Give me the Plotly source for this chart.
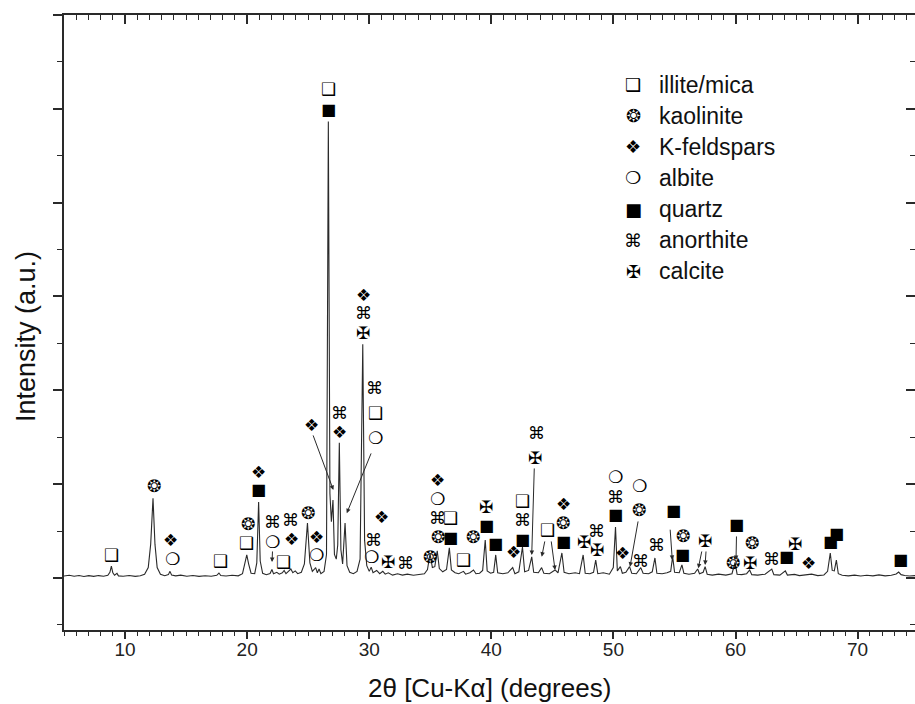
import plotly.graph_objects as go

# Powder diffraction pattern (2-theta in degrees, intensity in arbitrary counts)
TWO_THETA = [
    5.00, 5.43, 5.83, 6.23, 6.63, 7.03, 7.43, 7.83, 8.24, 8.59, 8.76, 8.88, 9.00, 9.14, 9.34, 9.46,
    9.84, 10.34, 10.84, 11.25, 11.60, 11.90, 12.10, 12.29, 12.45, 12.63, 12.90, 13.25, 13.55, 13.68,
    13.81, 14.15, 14.56, 15.06, 15.56, 16.06, 16.56, 17.06, 17.51, 17.69, 17.84, 18.27, 18.77, 19.27,
    19.62, 19.82, 19.97, 20.12, 20.32, 20.62, 20.79, 20.94, 21.07, 21.27, 21.57, 21.88, 22.03, 22.16,
    22.43, 22.63, 22.88, 23.03, 23.18, 23.38, 23.58, 23.74, 23.94, 24.14, 24.44, 24.69, 24.94, 25.14,
    25.34, 25.49, 25.61, 25.75, 25.89, 26.04, 26.30, 26.50, 26.65, 26.78, 26.90, 27.03, 27.15, 27.30,
    27.42, 27.55, 27.68, 27.82, 28.02, 28.18, 28.40, 28.70, 29.00, 29.25, 29.47, 29.62, 29.80, 30.00,
    30.16, 30.31, 30.61, 30.86, 31.11, 31.31, 31.56, 31.91, 32.32, 32.72, 33.12, 33.62, 34.12, 34.52,
    34.77, 34.98, 35.17, 35.37, 35.57, 35.74, 36.02, 36.33, 36.56, 36.73, 37.03, 37.33, 37.72, 37.89,
    38.24, 38.54, 38.74, 39.04, 39.29, 39.50, 39.66, 39.94, 40.19, 40.36, 40.52, 40.94, 41.35, 41.75,
    41.93, 42.25, 42.55, 42.73, 43.05, 43.31, 43.47, 43.85, 44.12, 44.30, 44.76, 45.22, 45.46, 45.78,
    45.96, 46.36, 46.87, 47.22, 47.52, 47.69, 48.07, 48.37, 48.55, 48.72, 49.17, 49.67, 49.99, 50.17,
    50.32, 50.57, 50.73, 51.02, 51.32, 51.50, 51.88, 52.24, 52.43, 52.88, 53.18, 53.40, 53.56, 53.99,
    54.39, 54.69, 54.85, 55.01, 55.39, 55.61, 55.77, 56.19, 56.65, 56.90, 57.05, 57.35, 57.51, 57.68,
    58.10, 58.61, 59.21, 59.71, 59.96, 60.13, 60.51, 60.91, 61.16, 61.33, 61.82, 62.42, 62.97, 63.14,
    63.63, 64.08, 64.25, 64.83, 65.23, 65.73, 66.23, 66.74, 67.24, 67.54, 67.76, 67.92, 68.09, 68.26,
    68.42, 68.74, 69.24, 69.75, 70.25, 70.75, 71.25, 71.75, 72.26, 72.76, 73.16, 73.36, 73.56, 73.85,
    74.25, 74.70,
]
COUNTS = [
    20, 28, 18, 26, 15, 24, 17, 25, 18, 28, 60, 125, 55, 28, 48, 22,
    18, 26, 17, 24, 40, 110, 360, 850, 360, 110, 40, 24, 35, 70,
    32, 22, 30, 18, 26, 17, 24, 18, 28, 52, 25, 20, 28, 22,
    45, 150, 245, 150, 50, 45, 160, 810, 180, 50, 35, 48, 90, 45,
    60, 40, 55, 80, 45, 70, 95, 55, 75, 45, 60, 150, 585, 160,
    70, 90, 110, 55, 95, 45, 70, 250, 4865, 900, 600, 830, 250, 200,
    350, 1440, 300, 150, 586, 130, 60, 45, 70, 200, 2490, 400, 130, 70,
    115, 55, 80, 45, 70, 40, 55, 30, 45, 30, 40, 28, 40, 45,
    90, 260, 110, 120, 290, 100, 65, 90, 320, 85, 55, 45, 70, 40,
    55, 85, 45, 50, 80, 405, 75, 50, 60, 245, 55, 45, 55, 110,
    45, 65, 330, 65, 80, 225, 60, 55, 110, 50, 45, 85, 55, 266,
    60, 45, 55, 45, 245, 50, 45, 60, 190, 45, 55, 40, 110, 543,
    75, 120, 50, 60, 120, 50, 45, 110, 50, 45, 65, 213, 50, 45,
    55, 70, 227, 60, 55, 139, 50, 40, 50, 95, 45, 60, 120, 40,
    30, 40, 30, 45, 165, 40, 35, 45, 85, 35, 30, 40, 95, 35,
    30, 75, 30, 38, 25, 32, 40, 25, 32, 70, 266, 80, 75, 190,
    45, 28, 22, 30, 20, 28, 22, 32, 22, 28, 42, 62, 35, 25,
    20, 25,
]

# Mineral phases and the glyph used to mark each one
PHASE_CODES = ["I", "K", "F", "A", "Q", "N", "C"]
PHASE_NAMES = ["illite/mica", "kaolinite", "K-feldspars", "albite", "quartz", "anorthite", "calcite"]
PHASE_GLYPHS = ["❑", "❂", "❖", "❍", "■", "⌘", "✠"]
GLYPH = dict(zip(PHASE_CODES, PHASE_GLYPHS))

# Peak assignments: (2-theta, height of the glyph, phase)
PEAK_MARKS = [
    (8.91, 245, "I"),
    (12.35, 981, "K"),
    (13.69, 405, "F"), (13.87, 200, "A"),
    (17.78, 185, "I"),
    (19.97, 370, "I"), (20.05, 572, "K"),
    (20.97, 945, "Q"), (20.97, 1133, "F"),
    (22.10, 387, "A"), (22.10, 600, "N"),
    (22.96, 174, "I"),
    (23.65, 416, "F"), (23.57, 618, "N"),
    (25.01, 696, "K"),
    (25.64, 245, "A"), (25.70, 440, "F"),
    (25.29, 1631, "F"),
    (26.67, 4996, "Q"), (26.67, 5209, "I"),
    (27.55, 1553, "F"), (27.55, 1762, "N"),
    (29.52, 2615, "C"), (29.52, 2822, "N"), (29.52, 3017, "F"),
    (30.48, 1496, "A"), (30.48, 1762, "I"), (30.42, 2022, "N"),
    (30.21, 221, "A"), (30.34, 405, "N"), (31.02, 653, "F"),
    (31.55, 165, "C"),
    (32.93, 163, "N"),
    (34.98, 221, "K"),
    (35.61, 440, "K"), (35.61, 636, "N"), (35.61, 842, "A"), (35.61, 1045, "F"),
    (36.62, 434, "Q"), (36.62, 636, "I"),
    (37.71, 192, "I"),
    (38.53, 440, "K"),
    (39.57, 554, "Q"), (39.57, 754, "C"),
    (40.38, 370, "Q"),
    (41.80, 274, "F"),
    (42.57, 405, "Q"), (42.57, 618, "N"), (42.57, 824, "I"),
    (43.58, 1276, "C"), (43.72, 1549, "N"),
    (44.62, 512, "I"),
    (45.90, 387, "Q"), (45.90, 590, "K"), (45.90, 789, "F"),
    (47.62, 387, "C"),
    (48.63, 298, "C"), (48.63, 501, "N"),
    (50.21, 672, "Q"), (50.21, 867, "N"), (50.21, 1073, "A"),
    (50.76, 263, "F"),
    (52.12, 725, "K"), (52.12, 981, "A"),
    (52.18, 183, "N"),
    (53.49, 352, "N"),
    (54.91, 714, "Q"),
    (55.68, 245, "Q"), (55.68, 448, "K"),
    (57.50, 398, "C"),
    (59.77, 157, "K"),
    (60.10, 565, "Q"),
    (61.19, 163, "C"), (61.38, 376, "K"),
    (62.96, 199, "N"),
    (64.19, 227, "Q"),
    (64.87, 362, "C"),
    (65.96, 157, "F"),
    (67.80, 387, "Q"), (68.29, 476, "Q"),
    (73.55, 192, "Q"),
]

# Leader lines from a glyph down to its peak: (tail 2-theta, tail height, head 2-theta, head height)
LEADERS = [
    (22.08, 298, 22.04, 170),
    (25.36, 1535, 27.06, 938),
    (30.20, 1343, 28.16, 690),
    (43.52, 1183, 43.31, 245),
    (44.40, 405, 44.13, 227),
    (44.89, 405, 45.22, 85),
    (52.04, 618, 51.36, 120),
    (54.64, 530, 54.82, 192),
    (57.26, 298, 56.95, 103),
    (57.59, 298, 57.51, 139),
    (60.08, 458, 60.04, 192),
]

X_RANGE = [5, 74.7]
Y_RANGE = [-555, 6000]
INK = "#2a2a2a"
TEXT_FONT = "Liberation Sans, Arial, sans-serif"
GLYPH_FONT = "DejaVu Sans"

fig = go.Figure()
fig.add_trace(go.Scatter(
    x=TWO_THETA, y=COUNTS, mode="lines",
    line=dict(color=INK, width=1.1),
    hoverinfo="skip", showlegend=False,
))
# invisible companion trace so the mirrored top/right axes are drawn
fig.add_trace(go.Scatter(
    x=[TWO_THETA[0]], y=[COUNTS[0]], xaxis="x2", yaxis="y2",
    mode="markers", marker=dict(opacity=0), hoverinfo="skip", showlegend=False,
))

annotations = []
for theta, level, code in PEAK_MARKS:
    annotations.append(dict(
        x=theta, y=level, xref="x", yref="y", text=GLYPH[code], showarrow=False,
        xanchor="center", yanchor="middle",
        font=dict(family=GLYPH_FONT, size=16 if code == "Q" else 17, color="black"),
    ))
for x0, y0, x1, y1 in LEADERS:
    annotations.append(dict(
        x=x1, y=y1, ax=x0, ay=y0, xref="x", yref="y", axref="x", ayref="y",
        text="", showarrow=True, arrowhead=2, arrowsize=0.9, arrowwidth=1.0,
        arrowcolor=INK, standoff=0, startstandoff=0,
    ))

# key to the glyphs, top right of the plot
row_px = [85, 116, 147, 178, 209, 240, 271]
plot_top, plot_bottom, plot_left, plot_right = 15, 630, 64, 915
for name, glyph, ypx in zip(PHASE_NAMES, PHASE_GLYPHS, row_px):
    yp = (plot_bottom - ypx) / (plot_bottom - plot_top)
    annotations.append(dict(
        x=(633 - plot_left) / (plot_right - plot_left), y=yp, xref="paper", yref="paper",
        text=glyph, showarrow=False, xanchor="center", yanchor="middle",
        font=dict(family=GLYPH_FONT, size=18, color="black"),
    ))
    annotations.append(dict(
        x=(657 - plot_left) / (plot_right - plot_left), y=yp, xref="paper", yref="paper",
        text=name, showarrow=False, xanchor="left", yanchor="middle",
        font=dict(family=TEXT_FONT, size=23, color="#111"),
    ))

# axis titles
annotations.append(dict(
    x=0.5, y=(plot_bottom - 688) / (plot_bottom - plot_top), xref="paper", yref="paper",
    text="2θ [Cu-Kα] (degrees)", showarrow=False, xanchor="center", yanchor="middle",
    font=dict(family=TEXT_FONT, size=26, color="#111"),
))
annotations.append(dict(
    x=(26 - plot_left) / (plot_right - plot_left), y=(plot_bottom - 337) / (plot_bottom - plot_top),
    xref="paper", yref="paper", text="Intensity (a.u.)", textangle=-90, showarrow=False,
    xanchor="center", yanchor="middle",
    font=dict(family=TEXT_FONT, size=27, color="#111"),
))

common = dict(showgrid=False, zeroline=False, tickcolor=INK, tickwidth=1.5)
fig.update_layout(
    width=915, height=704,
    margin=dict(l=64, r=0, t=15, b=74),
    paper_bgcolor="white", plot_bgcolor="white",
    xaxis=dict(
        range=X_RANGE, tick0=10, dtick=10, ticks="outside", ticklen=7, ticklabelstandoff=-6,
        minor=dict(dtick=1, ticklen=4, ticks="outside", tickcolor=INK, tickwidth=1.2),
        showline=True, linecolor=INK, linewidth=1.5,
        tickfont=dict(family="Liberation Sans Narrow, Liberation Sans, sans-serif", size=19, color="#222"),
        **common,
    ),
    xaxis2=dict(
        range=X_RANGE, overlaying="x", side="top", anchor="y", tick0=10, dtick=10,
        ticks="inside", ticklen=9, showticklabels=False,
        minor=dict(dtick=1, ticklen=5, ticks="inside", tickcolor=INK, tickwidth=1.2),
        showline=True, linecolor=INK, linewidth=1.5,
        **common,
    ),
    yaxis=dict(
        range=Y_RANGE, tick0=0, dtick=1000, ticks="outside", ticklen=9, showticklabels=False,
        minor=dict(dtick=500, ticklen=5, ticks="outside", tickcolor=INK, tickwidth=1.2),
        showline=True, linecolor=INK, linewidth=1.5,
        **common,
    ),
    yaxis2=dict(
        range=Y_RANGE, overlaying="y", side="right", anchor="x", tick0=0, dtick=1000,
        ticks="inside", ticklen=9, showticklabels=False, showline=False,
        minor=dict(dtick=500, ticklen=5, ticks="inside", tickcolor=INK, tickwidth=1.2),
        **common,
    ),
    annotations=annotations,
)

fig.write_html("out.html")
